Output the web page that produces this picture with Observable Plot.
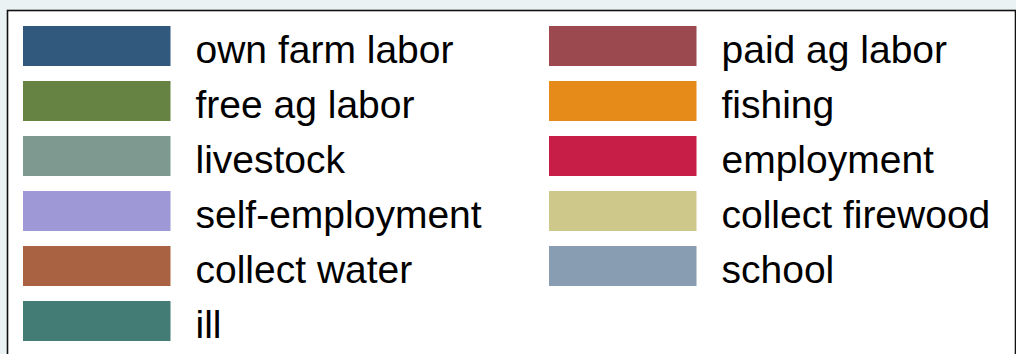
<!DOCTYPE html>
<html>
<head>
<meta charset="utf-8">
<script src="https://cdn.jsdelivr.net/npm/d3@7"></script>
<script src="https://cdn.jsdelivr.net/npm/@observablehq/plot@0.6"></script>
<style>
  html, body { margin: 0; padding: 0; background: #eaf2f3; overflow: hidden; }
  #wrap { width: 1016px; height: 354px; overflow: hidden; }
</style>
</head>
<body>
<div id="wrap"></div>
<script>
// Legend entries (Stata s2color palette, row-wise in 2 columns)
const labels = [
  "own farm labor", "paid ag labor",
  "free ag labor", "fishing",
  "livestock", "employment",
  "self-employment", "collect firewood",
  "collect water", "school",
  "ill"
];
const colors = [
  "#31597d", "#9b494f",
  "#668344", "#e68b1a",
  "#7d9990", "#c71e48",
  "#9e98d6", "#cfc88b",
  "#aa6342", "#889db1",
  "#427c75"
];
const columns = [0, 1];
const rows = [0, 1, 2, 3, 4, 5];

const items = labels.map((label, i) => ({label, col: i % 2, row: Math.floor(i / 2)}));

const chart = Plot.plot({
  width: 1016,
  height: 372,
  marginLeft: 7,
  marginTop: 10,
  marginRight: 1,
  marginBottom: 0,
  style: {
    background: "#eaf2f3",
    fontFamily: "'Liberation Sans', Arial, Helvetica, sans-serif",
    color: "#000"
  },
  x: {type: "band", domain: columns, range: [23.3, 1075.3], padding: 0, axis: null},
  y: {type: "band", domain: rows, range: [26, 356], padding: 0, axis: null},
  color: {domain: labels, range: colors},
  marks: [
    Plot.frame({fill: "white", stroke: "#111", strokeWidth: 1.6}),
    Plot.cell(items, {x: "col", y: "row", fill: "label", insetRight: 378.5, insetBottom: 15}),
    Plot.text(items, {
      x: "col", y: "row", text: "label",
      textAnchor: "start", lineAnchor: "bottom",
      dx: -91, dy: 8.5,
      fontSize: 39, fill: "#000"
    })
  ]
});
document.getElementById("wrap").appendChild(chart);
</script>
</body>
</html>
